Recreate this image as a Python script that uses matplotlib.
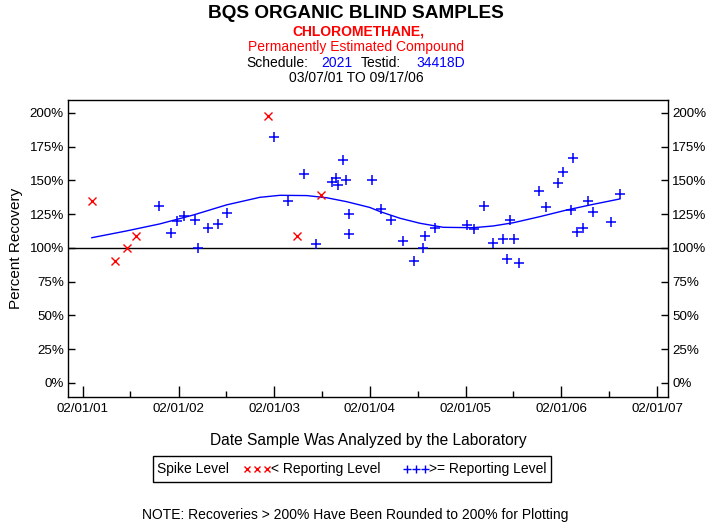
import numpy as np
import matplotlib
matplotlib.use("Agg")
import matplotlib.pyplot as plt
import matplotlib.dates as mdates
from matplotlib.lines import Line2D
from matplotlib.patches import Rectangle
from datetime import datetime

plt.rcParams["font.family"] = ["Liberation Sans", "DejaVu Sans"]

# samples below reporting level (red x)
below_dates = ["2001-03-07", "2001-06-03", "2001-07-21", "2001-08-23",
               "2003-01-09", "2003-04-28", "2003-07-29"]
below_pct = [135, 90, 100, 109, 198, 109, 139]

# samples at or above reporting level (blue +)
above_dates = ["2001-11-18", "2002-01-05", "2002-01-25", "2002-02-22", "2002-04-04",
               "2002-04-18", "2002-05-25", "2002-07-03", "2002-08-05", "2003-02-01",
               "2003-03-26", "2003-05-27", "2003-07-10", "2003-09-10", "2003-09-25",
               "2003-10-03", "2003-10-21", "2003-11-01", "2003-11-13", "2003-11-14",
               "2004-02-08", "2004-03-14", "2004-04-21", "2004-06-05", "2004-07-19",
               "2004-08-22", "2004-08-30", "2004-10-05", "2005-02-07", "2005-03-06",
               "2005-04-11", "2005-05-16", "2005-06-22", "2005-07-08", "2005-07-21",
               "2005-08-05", "2005-08-22", "2005-11-09", "2005-12-03", "2006-01-20",
               "2006-02-08", "2006-03-09", "2006-03-17", "2006-04-01", "2006-04-25",
               "2006-05-12", "2006-05-31", "2006-08-08", "2006-09-12"]
above_pct = [131, 111, 120, 124, 121, 100, 115, 118, 126, 182,
             135, 155, 103, 149, 152, 147, 165, 150, 125, 110,
             150, 129, 121, 105, 90, 100, 109, 115, 117, 114,
             131, 104, 107, 92, 121, 107, 89, 142, 130, 148,
             156, 128, 167, 112, 115, 135, 127, 119, 140]

# trend curve
trend_dates = ["2001-03-07", "2001-07-17", "2001-11-21", "2002-03-29", "2002-08-03",
               "2002-12-08", "2003-02-23", "2003-06-05", "2003-08-20", "2003-11-04",
               "2004-02-01", "2004-03-10", "2004-05-26", "2004-08-10", "2004-11-07",
               "2005-03-02", "2005-05-17", "2005-08-02", "2005-11-11", "2006-02-21",
               "2006-06-02", "2006-09-12"]
trend_pct = [107.6, 112.6, 117.8, 124.4, 131.9, 137.5, 139.0, 138.8, 137.2, 134.3,
             130.0, 127.0, 122.0, 118.3, 115.3, 115.0, 116.3, 118.7, 123.2, 128.1,
             132.3, 136.3]

yticks = [0, 25, 50, 75, 100, 125, 150, 175, 200]
xtick_dates = ["2001-02-01", "2002-02-01", "2003-02-01", "2004-02-01",
               "2005-02-01", "2006-02-01", "2007-02-01"]
xminor_dates = ["2001-08-01", "2002-08-01", "2003-08-01", "2004-08-01",
                "2005-08-01", "2006-08-01"]


def to_dt(lst):
    return [datetime.strptime(s, "%Y-%m-%d") for s in lst]


W, H = 713, 523
fig = plt.figure(figsize=(W / 100, H / 100), dpi=100)
ax = fig.add_axes([68 / W, 1 - 397 / H, 600 / W, 297 / H])

ax.plot(to_dt(trend_dates), trend_pct, color="#0000ff", lw=1)
ax.axhline(100, color="black", lw=1)
ax.plot(to_dt(below_dates), below_pct, "x", color="red", ms=6, mew=1)
ax.plot(to_dt(above_dates), above_pct, "+", color="#0000ff", ms=7.5, mew=1.1)

ax.set_xlim(datetime(2000, 12, 6), datetime(2007, 3, 15))
ax.set_ylim(-10.4, 209.6)
ax.set_xticks(to_dt(xtick_dates))
ax.set_xticks(to_dt(xminor_dates), minor=True)
ax.xaxis.set_major_formatter(mdates.DateFormatter("%m/%d/%y"))
ax.set_yticks(yticks)
ax.set_yticklabels([f"{v}%" for v in yticks])
ax.tick_params(axis="both", which="major", direction="in", length=8, width=1,
               labelsize=9.6, pad=4)
ax.tick_params(axis="x", which="minor", direction="in", length=4.5, width=1)
ax.tick_params(axis="y", which="major", length=5, right=True, labelright=True, pad=3)
for s in ax.spines.values():
    s.set_linewidth(1)

ax.set_ylabel("Percent Recovery", fontsize=11, labelpad=5)
ax.set_xlabel("Date Sample Was Analyzed by the Laboratory", fontsize=11.2, labelpad=13)

# header
fig.text(356 / W, 1 - 13 / H, "BQS ORGANIC BLIND SAMPLES", ha="center", va="center",
         fontsize=13.7, fontweight="bold")
fig.text(358 / W, 1 - 31 / H, "CHLOROMETHANE,", ha="center", va="center",
         fontsize=10, fontweight="bold", color="red")
fig.text(356 / W, 1 - 47 / H, "Permanently Estimated Compound", ha="center", va="center",
         fontsize=10, color="red")
y_s = 1 - 63 / H
fig.text(246 / W, y_s, "Schedule:", ha="left", va="center", fontsize=10)
fig.text(321 / W, y_s, "2021", ha="left", va="center", fontsize=10, color="#0000ff")
fig.text(361 / W, y_s, "Testid:", ha="left", va="center", fontsize=10)
fig.text(416 / W, y_s, "34418D", ha="left", va="center", fontsize=10, color="#0000ff")
fig.text(356 / W, 1 - 78 / H, "03/07/01 TO 09/17/06", ha="center", va="center", fontsize=10)

# legend box
fig.add_artist(Rectangle((153 / W, 1 - 482 / H), 398 / W, 26 / H, transform=fig.transFigure,
                         fill=False, edgecolor="black", lw=1))
y_l = 1 - 469 / H
fig.text(157 / W, y_l, "Spike Level", ha="left", va="center", fontsize=10)
fig.add_artist(Line2D([247 / W, 257 / W, 267 / W], [y_l] * 3, transform=fig.transFigure,
                      ls="none", marker="x", color="red", ms=5, mew=1))
fig.text(271 / W, y_l, "< Reporting Level", ha="left", va="center", fontsize=10)
fig.add_artist(Line2D([407 / W, 416 / W, 425 / W], [y_l] * 3, transform=fig.transFigure,
                      ls="none", marker="+", color="#0000ff", ms=5.5, mew=1))
fig.text(429 / W, y_l, ">= Reporting Level", ha="left", va="center", fontsize=10)

fig.text(355 / W, 1 - 515 / H, "NOTE: Recoveries > 200% Have Been Rounded to 200% for Plotting",
         ha="center", va="center", fontsize=10)

fig.savefig("out.png", dpi=100)
